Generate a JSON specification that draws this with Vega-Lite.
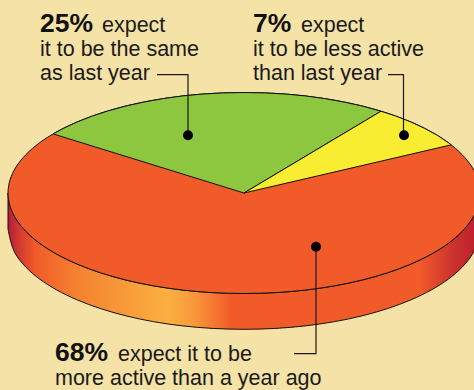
{
  "$schema": "https://vega.github.io/schema/vega-lite/v6.json",
  "width": 474,
  "height": 390,
  "autosize": {"type": "fit", "contains": "padding"},
  "padding": 0,
  "background": "#f5e2a6",
  "view": {"stroke": null},
  "datasets": {
    "rim": [
      {"x":8,"y":194,"y2":230},{"x":16,"y":220.1,"y2":256.1},{"x":39.6,"y":244.5,"y2":280.5},
      {"x":77.1,"y":265.4,"y2":301.4},{"x":126,"y":281.5,"y2":317.5},{"x":182.9,"y":291.6,"y2":327.6},
      {"x":244,"y":295,"y2":331},{"x":305.1,"y":291.6,"y2":327.6},{"x":362,"y":281.5,"y2":317.5},
      {"x":410.9,"y":265.4,"y2":301.4},{"x":448.4,"y":244.5,"y2":280.5},{"x":472,"y":220.1,"y2":256.1},
      {"x":480,"y":194,"y2":230}
    ],
    "disc": [
      {"i":0,"x":480,"y":194},{"i":1,"x":472,"y":167.9},{"i":2,"x":448.4,"y":143.5},{"i":3,"x":410.9,"y":122.6},
      {"i":4,"x":362,"y":106.5},{"i":5,"x":305.1,"y":96.4},{"i":6,"x":244,"y":93},{"i":7,"x":182.9,"y":96.4},
      {"i":8,"x":126,"y":106.5},{"i":9,"x":77.1,"y":122.6},{"i":10,"x":39.6,"y":143.5},{"i":11,"x":16,"y":167.9},
      {"i":12,"x":8,"y":194},{"i":13,"x":16,"y":220.1},{"i":14,"x":39.6,"y":244.5},{"i":15,"x":77.1,"y":265.4},
      {"i":16,"x":126,"y":281.5},{"i":17,"x":182.9,"y":291.6},{"i":18,"x":244,"y":295},{"i":19,"x":305.1,"y":291.6},
      {"i":20,"x":362,"y":281.5},{"i":21,"x":410.9,"y":265.4},{"i":22,"x":448.4,"y":244.5},{"i":23,"x":472,"y":220.1}
    ],
    "same": [
      {"i":0,"x":244,"y":194},{"i":1,"x":53.1,"y":134.6},{"i":2,"x":63.2,"y":129.1},{"i":3,"x":77.1,"y":122.6},
      {"i":4,"x":92.3,"y":116.6},{"i":5,"x":108.6,"y":111.3},{"i":6,"x":126,"y":106.5},{"i":7,"x":144.3,"y":102.5},
      {"i":8,"x":163.3,"y":99.1},{"i":9,"x":182.9,"y":96.4},{"i":10,"x":203,"y":94.5},{"i":11,"x":223.4,"y":93.4},
      {"i":12,"x":244,"y":93},{"i":13,"x":264.6,"y":93.4},{"i":14,"x":285,"y":94.5},{"i":15,"x":305.1,"y":96.4},
      {"i":16,"x":324.7,"y":99.1},{"i":17,"x":343.7,"y":102.5},{"i":18,"x":362,"y":106.5},{"i":19,"x":381,"y":111.8},
      {"i":20,"x":244,"y":194}
    ],
    "less": [
      {"i":0,"x":244,"y":194},{"i":1,"x":381,"y":111.8},{"i":2,"x":395.7,"y":116.6},{"i":3,"x":410.9,"y":122.6},
      {"i":4,"x":424.8,"y":129.1},{"i":5,"x":437.3,"y":136},{"i":6,"x":448.4,"y":143.5},{"i":7,"x":451.2,"y":145.6},
      {"i":8,"x":244,"y":194}
    ],
    "leaders": [
      {"group":"same","i":0,"x":157,"y":75},{"group":"same","i":1,"x":188,"y":75},{"group":"same","i":2,"x":188,"y":136},
      {"group":"less","i":0,"x":388,"y":75},{"group":"less","i":1,"x":403.5,"y":75},{"group":"less","i":2,"x":403.5,"y":136},
      {"group":"more","i":0,"x":294,"y":355.5},{"group":"more","i":1,"x":316,"y":355.5},{"group":"more","i":2,"x":316,"y":248}
    ],
    "dots": [
      {"group":"same","x":188,"y":136},
      {"group":"less","x":404,"y":136},
      {"group":"more","x":316,"y":248}
    ],
    "shares": [
      {"label":"25%","x":40,"y":32},
      {"label":"7%","x":253,"y":32},
      {"label":"68%","x":55,"y":363}
    ],
    "captions": [
      {"label":"expect","x":102,"y":32},
      {"label":"it to be the same","x":40,"y":56},
      {"label":"as last year","x":40,"y":80},
      {"label":"expect","x":301,"y":32},
      {"label":"it to be less active","x":253,"y":56},
      {"label":"than last year","x":253,"y":80},
      {"label":"expect it to be","x":118,"y":363},
      {"label":"more active than a year ago","x":55,"y":387}
    ]
  },
  "encoding": {
    "x": {"field": "x", "type": "quantitative", "axis": null, "scale": {"domain": [0, 474], "nice": false, "zero": false}},
    "y": {"field": "y", "type": "quantitative", "axis": null, "scale": {"domain": [390, 0], "nice": false, "zero": false}}
  },
  "layer": [
    {
      "data": {"name": "rim"},
      "mark": {
        "type": "area", "clip": true, "interpolate": "cardinal", "stroke": "#111", "strokeWidth": 1,
        "fill": {
          "gradient": "linear", "x1": 0, "y1": 0, "x2": 1, "y2": 0,
          "stops": [
            {"offset": 0, "color": "#b01c3a"},
            {"offset": 0.02, "color": "#cf352f"},
            {"offset": 0.057, "color": "#f15a29"},
            {"offset": 0.14, "color": "#f5802f"},
            {"offset": 0.339, "color": "#fbb040"},
            {"offset": 0.396, "color": "#f9973a"},
            {"offset": 0.475, "color": "#f15a29"},
            {"offset": 0.873, "color": "#f15a29"},
            {"offset": 0.947, "color": "#c9302e"},
            {"offset": 1, "color": "#be1e2d"}
          ]
        }
      },
      "encoding": {"y2": {"field": "y2"}}
    },
    {
      "data": {"name": "disc"},
      "mark": {"type": "line", "clip": true, "interpolate": "cardinal-closed", "fill": "#f15a29", "stroke": "#111", "strokeWidth": 1},
      "encoding": {"order": {"field": "i"}}
    },
    {
      "data": {"name": "same"},
      "mark": {"type": "line", "fill": "#8dc63f", "stroke": "#111", "strokeWidth": 1},
      "encoding": {"order": {"field": "i"}}
    },
    {
      "data": {"name": "less"},
      "mark": {"type": "line", "fill": "#f9ed32", "stroke": "#111", "strokeWidth": 1},
      "encoding": {"order": {"field": "i"}}
    },
    {
      "data": {"name": "leaders"},
      "mark": {"type": "line", "stroke": "#1a1a1a", "strokeWidth": 1.2},
      "encoding": {"detail": {"field": "group"}, "order": {"field": "i"}}
    },
    {
      "data": {"name": "dots"},
      "mark": {"type": "point", "shape": "circle", "filled": true, "size": 100, "color": "#000", "opacity": 1}
    },
    {
      "data": {"name": "shares"},
      "mark": {"type": "text", "align": "left", "baseline": "alphabetic", "font": "Liberation Sans", "fontWeight": "bold", "fontSize": 26.5, "color": "#111"},
      "encoding": {"text": {"field": "label"}}
    },
    {
      "data": {"name": "captions"},
      "mark": {"type": "text", "align": "left", "baseline": "alphabetic", "font": "Liberation Sans", "fontSize": 21.5, "color": "#1a1a1a"},
      "encoding": {"text": {"field": "label"}}
    }
  ]
}
